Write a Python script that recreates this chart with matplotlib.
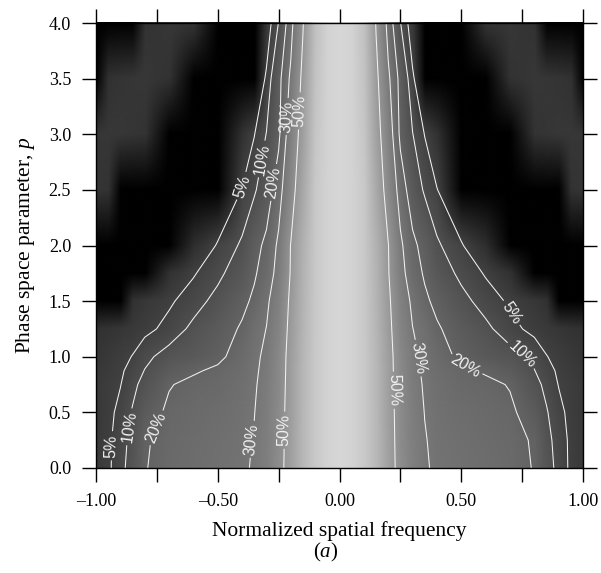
import numpy as np
import matplotlib
matplotlib.use("Agg")
import matplotlib.pyplot as plt
from matplotlib import colors
from matplotlib.image import NonUniformImage

# --- data --------------------------------------------------------------
# normalized spatial frequency (columns) and phase space parameter (rows)
freq = [-1.0, -0.95, -0.9, -0.85, -0.8, -0.7, -0.6, -0.5, -0.4, -0.35, -0.3,
        -0.25, -0.2, -0.15, -0.1, -0.05, 0.0, 0.05, 0.1, 0.15, 0.2, 0.25,
        0.3, 0.35, 0.4, 0.5, 0.6, 0.7, 0.8, 0.85, 0.9, 0.95, 1.0]
p_vals = [0.0, 0.25, 0.5, 0.75, 0.875, 1.0, 1.25, 1.5, 1.75, 2.0, 2.5, 3.0, 3.5, 4.0]

# relative response (fraction of peak) along each p row
row_p000 = [0.025, 0.04, 0.08, 0.13, 0.195, 0.235, 0.25, 0.265, 0.285, 0.31, 0.355, 0.44, 0.58, 0.75, 0.89, 0.97,
            1.00, 0.97, 0.89, 0.75, 0.58, 0.44, 0.355, 0.31, 0.285, 0.265, 0.25, 0.235, 0.195, 0.13, 0.08, 0.04, 0.025]
row_p025 = [0.025, 0.04, 0.075, 0.12, 0.19, 0.23, 0.245, 0.26, 0.28, 0.305, 0.35, 0.435, 0.575, 0.75, 0.89, 0.97,
            1.00, 0.97, 0.89, 0.75, 0.575, 0.435, 0.35, 0.305, 0.28, 0.26, 0.245, 0.23, 0.19, 0.12, 0.075, 0.04, 0.025]
row_p050 = [0.022, 0.035, 0.065, 0.105, 0.16, 0.215, 0.235, 0.25, 0.275, 0.298, 0.345, 0.43, 0.57, 0.75, 0.89, 0.97,
            1.00, 0.97, 0.89, 0.75, 0.57, 0.43, 0.345, 0.298, 0.275, 0.25, 0.235, 0.215, 0.16, 0.105, 0.065, 0.035, 0.022]
row_p075 = [0.025, 0.035, 0.048, 0.085, 0.12, 0.195, 0.22, 0.23, 0.26, 0.29, 0.335, 0.42, 0.565, 0.745, 0.89, 0.97,
            1.00, 0.97, 0.89, 0.745, 0.565, 0.42, 0.335, 0.29, 0.26, 0.23, 0.22, 0.195, 0.12, 0.085, 0.048, 0.035, 0.025]
row_p088 = [0.02, 0.03, 0.042, 0.068, 0.102, 0.16, 0.19, 0.215, 0.25, 0.285, 0.327, 0.415, 0.562, 0.742, 0.89, 0.97,
            1.00, 0.97, 0.89, 0.742, 0.562, 0.415, 0.327, 0.285, 0.25, 0.215, 0.19, 0.16, 0.102, 0.068, 0.042, 0.03, 0.02]
row_p100 = [0.015, 0.025, 0.035, 0.052, 0.085, 0.125, 0.15, 0.18, 0.24, 0.28, 0.32, 0.41, 0.56, 0.74, 0.89, 0.97,
            1.00, 0.97, 0.89, 0.74, 0.56, 0.41, 0.32, 0.28, 0.24, 0.18, 0.15, 0.125, 0.085, 0.052, 0.035, 0.025, 0.015]
row_p125 = [0.005, 0.01, 0.016, 0.025, 0.035, 0.066, 0.115, 0.16, 0.21, 0.26, 0.302, 0.39, 0.545, 0.73, 0.89, 0.97,
            1.00, 0.97, 0.89, 0.73, 0.545, 0.39, 0.302, 0.26, 0.21, 0.16, 0.115, 0.066, 0.035, 0.025, 0.016, 0.01, 0.005]
row_p150 = [-0.02, -0.015, -0.005, 0.006, 0.018, 0.042, 0.075, 0.12, 0.18, 0.215, 0.28, 0.37, 0.53, 0.72, 0.89, 0.97,
            1.00, 0.97, 0.89, 0.72, 0.53, 0.37, 0.28, 0.215, 0.18, 0.12, 0.075, 0.042, 0.018, 0.006, -0.005, -0.015, -0.02]
row_p175 = [-0.03, -0.04, -0.05, -0.05, -0.04, 0.005, 0.045, 0.085, 0.14, 0.19, 0.24, 0.34, 0.51, 0.71, 0.89, 0.97,
            1.00, 0.97, 0.89, 0.71, 0.51, 0.34, 0.24, 0.19, 0.14, 0.085, 0.045, 0.005, -0.04, -0.05, -0.05, -0.04, -0.03]
row_p200 = [-0.02, -0.035, -0.05, -0.06, -0.07, -0.05, 0.0, 0.055, 0.11, 0.17, 0.22, 0.32, 0.505, 0.70, 0.89, 0.97,
            1.00, 0.97, 0.89, 0.70, 0.505, 0.32, 0.22, 0.17, 0.11, 0.055, 0.0, -0.05, -0.07, -0.06, -0.05, -0.035, -0.02]
row_p250 = [0.014, 0.008, -0.005, -0.025, -0.045, -0.07, -0.06, -0.01, 0.052, 0.09, 0.15, 0.25, 0.42, 0.64, 0.88, 0.97,
            1.00, 0.97, 0.88, 0.64, 0.42, 0.25, 0.15, 0.09, 0.052, -0.01, -0.06, -0.07, -0.045, -0.025, -0.005, 0.008, 0.014]
row_p300 = [0.016, 0.018, 0.018, 0.015, 0.01, -0.015, -0.06, -0.06, 0.005, 0.048, 0.102, 0.18, 0.37, 0.58, 0.86, 0.97,
            1.00, 0.97, 0.86, 0.58, 0.37, 0.18, 0.102, 0.048, 0.005, -0.06, -0.06, -0.015, 0.01, 0.015, 0.018, 0.018, 0.016]
row_p350 = [-0.002, 0.006, 0.012, 0.017, 0.018, 0.008, -0.015, -0.07, -0.05, -0.002, 0.058, 0.17, 0.32, 0.54, 0.84, 0.97,
            1.00, 0.97, 0.84, 0.54, 0.32, 0.17, 0.058, -0.002, -0.05, -0.07, -0.015, 0.008, 0.018, 0.017, 0.012, 0.006, -0.002]
row_p400 = [-0.05, -0.04, -0.03, -0.01, 0.008, 0.018, 0.015, -0.05, -0.08, -0.05, 0.017, 0.102, 0.26, 0.49, 0.82, 0.97,
            1.00, 0.97, 0.82, 0.49, 0.26, 0.102, 0.017, -0.05, -0.08, -0.05, 0.015, 0.018, 0.008, -0.01, -0.03, -0.04, -0.05]

levels = [0.05, 0.10, 0.20, 0.30, 0.50]
level_text = ['5%', '10%', '20%', '30%', '50%']

xtick_vals = [-1.0, -0.5, 0.0, 0.5, 1.0]
xtick_labels = ['\u20131.00', '\u20130.50', '0.00', '0.50', '1.00']
xminor_vals = [-0.75, -0.25, 0.25, 0.75]
ytick_vals = [0.0, 0.5, 1.0, 1.5, 2.0, 2.5, 3.0, 3.5, 4.0]
ytick_labels = ['0.0', '0.5', '1.0', '1.5', '2.0', '2.5', '3.0', '3.5', '4.0']

# where the contour labels sit (layout only)
label_spots = {
    0.05: [(-0.41, 2.54), (-0.933, 0.20), (0.714, 1.405)],
    0.10: [(-0.325, 2.78), (-0.864, 0.37), (0.748, 1.016)],
    0.20: [(-0.28, 2.57), (-0.762, 0.37), (0.508, 0.866)],
    0.30: [(-0.221, 3.16), (-0.368, 0.26), (0.317, 0.986)],
    0.50: [(-0.165, 3.21), (-0.232, 0.34), (0.235, 0.70)],
}

plt.rcParams['font.family'] = ['Liberation Serif', 'DejaVu Serif']
plt.rcParams['mathtext.fontset'] = 'custom'
plt.rcParams['mathtext.rm'] = 'Liberation Serif'
plt.rcParams['mathtext.it'] = 'Liberation Serif:italic'

response = np.array([row_p000, row_p025, row_p050, row_p075, row_p088, row_p100, row_p125,
                     row_p150, row_p175, row_p200, row_p250, row_p300, row_p350, row_p400])
X, Y = np.meshgrid(freq, p_vals)

fig = plt.figure(figsize=(6.01, 5.73), dpi=100)
ax = fig.add_axes([96 / 601, 1 - 468 / 573, 487 / 601, 445 / 573])

# grey ramp starts at a dark grey; negative response is shown black
grey = colors.LinearSegmentedColormap.from_list('grey', ['#2d2d2d', '#d7d7d7'])
grey.set_under('black')
norm = colors.PowerNorm(gamma=0.7, vmin=0.0, vmax=1.0)
im = NonUniformImage(ax, interpolation='bilinear', extent=(-1, 1, 0, 4),
                     cmap=grey, norm=norm)
im.set_data(freq, p_vals, response)
ax.add_image(im)

# one contour set per level so each gets its own label spots
for lev, txt in zip(levels, level_text):
    cs = ax.contour(X, Y, response, levels=[lev], colors='#f2f2f2', linewidths=0.75)
    texts = ax.clabel(cs, fmt={lev: txt}, fontsize=11.5, inline=True,
                      inline_spacing=4, manual=label_spots[lev])
    for t in texts:
        t.set_family('Liberation Sans')

ax.set_xlim(-1, 1)
ax.set_ylim(0, 4)
ax.set_xticks(xtick_vals)
ax.set_xticklabels(xtick_labels)
ax.set_xticks(xminor_vals, minor=True)
ax.set_yticks(ytick_vals)
ax.set_yticklabels(ytick_labels)
ax.tick_params(which='both', direction='out', length=10, width=1,
               top=True, right=True, labelsize=13, pad=8)
for s in ax.spines.values():
    s.set_linewidth(1)

ax.set_xlabel('Normalized spatial frequency', fontsize=15.5, labelpad=8)
ax.set_ylabel('Phase space parameter, $p$', fontsize=15.5, labelpad=8)
fig.text(326 / 601, 1 - 552 / 573, '($a$)', ha='center', va='center', fontsize=15)

fig.savefig('out.png', dpi=100)
